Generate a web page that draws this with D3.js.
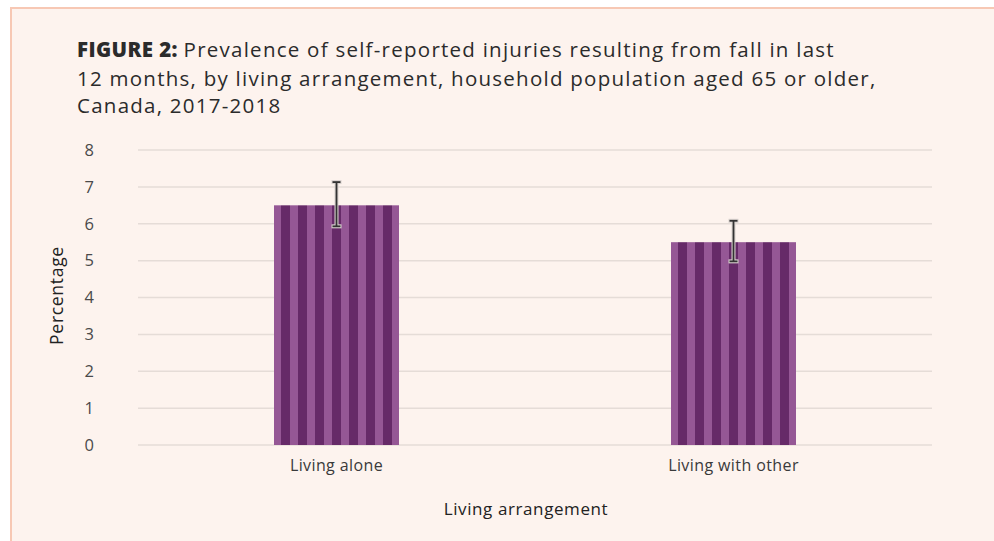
<!DOCTYPE html>
<html>
<head>
<meta charset="utf-8">
<script src="https://cdn.jsdelivr.net/npm/d3@7"></script>
<style>
  body { margin: 0; background: #ffffff; }
  svg { display: block; }
  text { font-family: 'Open Sans', sans-serif; }
</style>
</head>
<body>
<svg id="chart"></svg>
<script>
// data
var categories = ["Living alone", "Living with other"];
var values = [6.5, 5.5];
var lowerCI = [5.93, 4.98];
var upperCI = [7.13, 6.08];
var yTicks = [0, 1, 2, 3, 4, 5, 6, 7, 8];
var titleLines = [
    "Prevalence of self-reported injuries resulting from fall in last",
    "12 months, by living arrangement, household population aged 65 or older,",
    "Canada, 2017-2018"
];

var width = 994,
    height = 541;

var margin = {left: 138, right: 62, top: 150, bottom: 96};

var svg = d3.select("#chart")
    .attr("width", width)
    .attr("height", height);

// panel
svg.append("rect")
    .attr("x", 11)
    .attr("y", 8)
    .attr("width", width)
    .attr("height", height)
    .style("fill", "#fdf3ee")
    .style("stroke", "#f7c8b4")
    .style("stroke-width", 2);

// title
var title = svg.append("text")
    .attr("x", 77)
    .attr("y", 57)
    .style("font-size", "20.5px")
    .style("letter-spacing", "1.25px")
    .style("fill", "#2b2b2b");

title.append("tspan")
    .style("font-weight", 800)
    .style("letter-spacing", "0.4px")
    .text("FIGURE 2: ");
title.append("tspan").text(titleLines[0]);
title.append("tspan").attr("x", 77).attr("dy", 28.5).text(titleLines[1]);
title.append("tspan").attr("x", 77).attr("dy", 27.5).text(titleLines[2]);

var x = d3.scaleBand()
    .domain(categories)
    .range([margin.left, width - margin.right]);

var y = d3.scaleLinear()
    .domain([0, 8])
    .range([height - margin.bottom, margin.top]);

var barW = 125;

// grid
svg.append("g")
    .selectAll("line")
    .data(yTicks)
    .enter().append("line")
    .attr("x1", margin.left)
    .attr("x2", width - margin.right)
    .attr("y1", d => y(d))
    .attr("y2", d => y(d))
    .style("stroke", "#e5dcd7")
    .style("stroke-width", 1.5);

// y tick labels
svg.append("g")
    .selectAll("text")
    .data(yTicks)
    .enter().append("text")
    .attr("x", 94)
    .attr("y", d => y(d))
    .attr("dy", "0.35em")
    .attr("text-anchor", "end")
    .style("font-size", "16.5px")
    .style("fill", "#4a4a4a")
    .text(d => d);

// stripe patterns, one per bar so stripes line up with bar edge
var defs = svg.append("defs");
categories.forEach(function(c, i) {
    var bx = x(c) + x.bandwidth() / 2 - barW / 2;
    var p = defs.append("pattern")
        .attr("id", "stripe" + i)
        .attr("patternUnits", "userSpaceOnUse")
        .attr("x", bx - 10)
        .attr("y", 0)
        .attr("width", 17)
        .attr("height", 10);
    p.append("rect").attr("width", 17).attr("height", 10).style("fill", "#955795");
    p.append("rect").attr("width", 9).attr("height", 10).style("fill", "#662a68");
});

// bars
svg.append("g")
    .selectAll("rect")
    .data(values)
    .enter().append("rect")
    .attr("x", (d, i) => x(categories[i]) + x.bandwidth() / 2 - barW / 2)
    .attr("y", d => y(d))
    .attr("width", barW)
    .attr("height", d => y(0) - y(d))
    .style("fill", (d, i) => "url(#stripe" + i + ")");

// error bars
var eb = svg.append("g")
    .selectAll("g")
    .data(values)
    .enter().append("g")
    .attr("transform", (d, i) => "translate(" + (x(categories[i]) + x.bandwidth() / 2) + ",0)");

function drawErr(color, w, capW) {
    eb.append("line")
        .attr("y1", (d, i) => y(upperCI[i]))
        .attr("y2", (d, i) => y(lowerCI[i]))
        .style("stroke", color).style("stroke-width", w);
    eb.append("line")
        .attr("x1", -capW).attr("x2", capW)
        .attr("y1", (d, i) => y(upperCI[i]))
        .attr("y2", (d, i) => y(upperCI[i]))
        .style("stroke", color).style("stroke-width", w);
    eb.append("line")
        .attr("x1", -capW).attr("x2", capW)
        .attr("y1", (d, i) => y(lowerCI[i]))
        .attr("y2", (d, i) => y(lowerCI[i]))
        .style("stroke", color).style("stroke-width", w);
}
drawErr("#d9d2cf", 4, 5);
drawErr("#333333", 1.8, 4);

// category labels
svg.append("g")
    .selectAll("text")
    .data(categories)
    .enter().append("text")
    .attr("x", d => x(d) + x.bandwidth() / 2)
    .attr("y", 471)
    .attr("text-anchor", "middle")
    .style("font-size", "16px")
    .style("letter-spacing", "0.4px")
    .style("fill", "#3a3a3a")
    .text(d => d);

// axis titles
svg.append("text")
    .attr("x", 526)
    .attr("y", 515)
    .attr("text-anchor", "middle")
    .style("font-size", "17px")
    .style("letter-spacing", "0.6px")
    .style("fill", "#222")
    .text("Living arrangement");

svg.append("text")
    .attr("transform", "translate(63," + (y(4) - 2) + ") rotate(-90)")
    .attr("text-anchor", "middle")
    .style("font-size", "17.5px")
    .style("letter-spacing", "0.7px")
    .style("fill", "#222")
    .text("Percentage");
</script>
</body>
</html>
